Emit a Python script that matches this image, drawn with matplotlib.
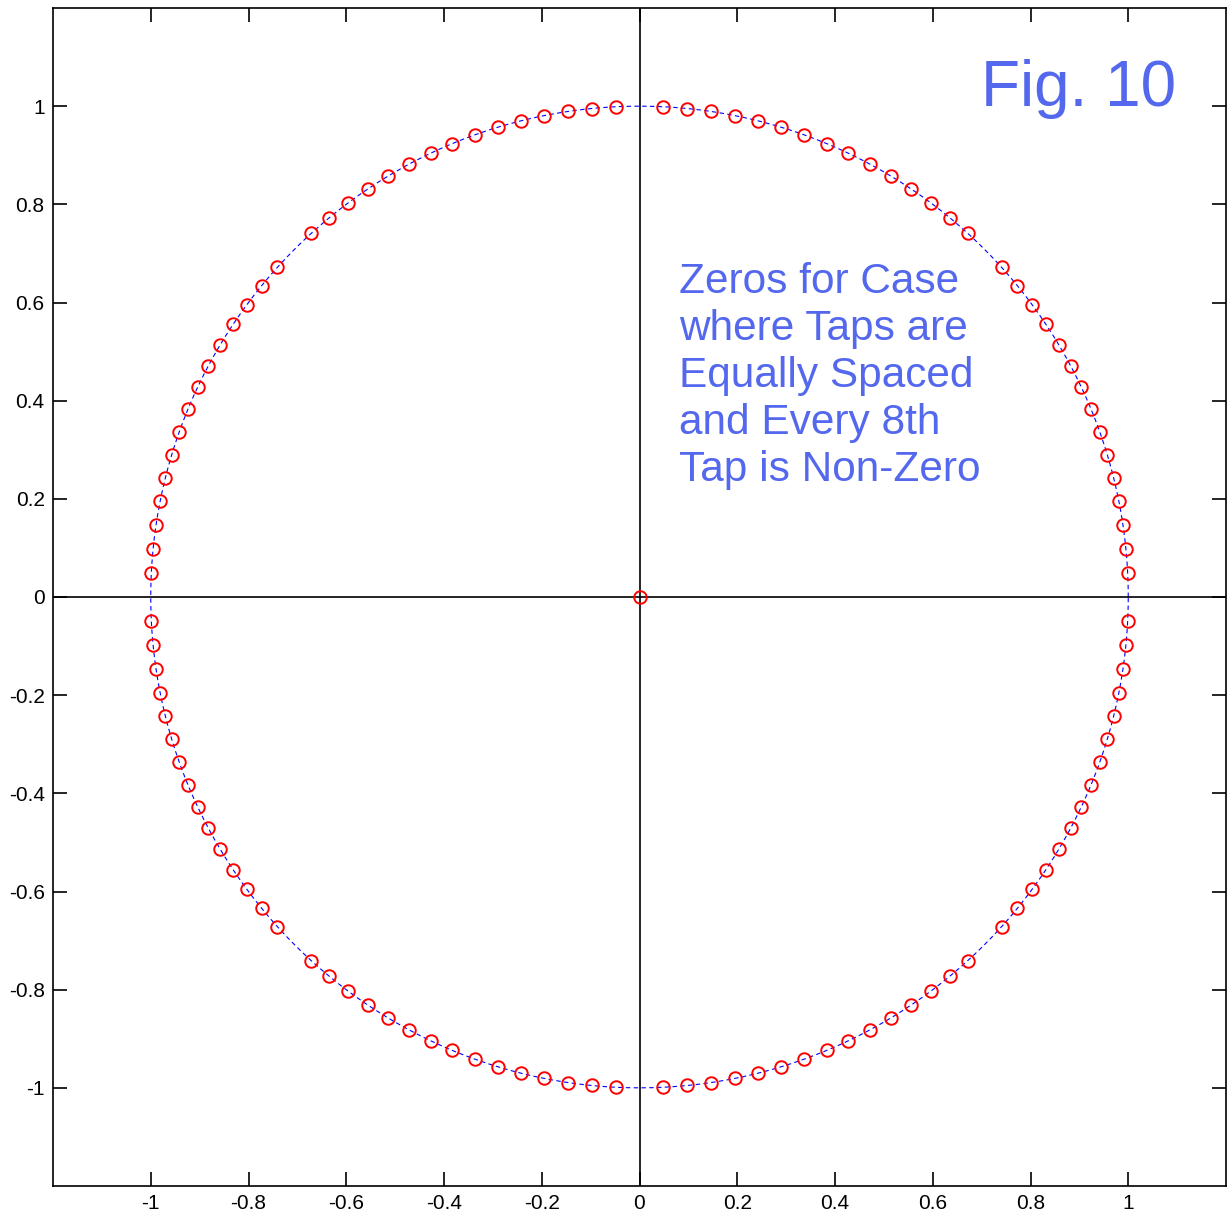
#!/usr/bin/env python3

import matplotlib as mpl
import matplotlib.pyplot as plt
import numpy as np

# filter taps: 128 taps, every 8th one is non-zero
taps = [1, 0, 0, 0, 0, 0, 0, 0] * 16
ticks = [-1, -0.8, -0.6, -0.4, -0.2, 0, 0.2, 0.4, 0.6, 0.8, 1]
tickLabels = ["-1", "-0.8", "-0.6", "-0.4", "-0.2", "0", "0.2", "0.4", "0.6", "0.8", "1"]
title = "Fig. 10"
note = "Zeros for Case\nwhere Taps are\nEqually Spaced\nand Every 8th\nTap is Non-Zero"

textColor = "#5468ee"

mpl.rcParams["font.family"] = ["Liberation Sans", "DejaVu Sans"]

zeros = np.roots(taps)
# repeated zeros at the origin drawn once
zeros = np.unique(np.round(zeros, 8))

fig = plt.figure(figsize=(12.29, 12.20), dpi=100)
ax = fig.add_axes([53 / 1229, 34 / 1220, 1173 / 1229, 1178 / 1220])

# unit circle, dashed
theta = np.linspace(0, 2 * np.pi, 721)
ax.plot(np.cos(theta), np.sin(theta), color="#0000ff", linestyle=(0, (4, 3)), linewidth=0.8)

ax.axhline(0, color="k", linewidth=1.2)
ax.axvline(0, color="k", linewidth=1.2)

ax.plot(zeros.real, zeros.imag, linestyle="none", marker="o", markersize=9,
	markerfacecolor="none", markeredgecolor="#ff0000", markeredgewidth=1.4)

ax.set_xlim(-1.2, 1.2)
ax.set_ylim(-1.2, 1.2)
ax.set_xticks(ticks)
ax.set_xticklabels(tickLabels)
ax.set_yticks(ticks)
ax.set_yticklabels(tickLabels)
ax.tick_params(direction="in", length=10, width=1.2, top=True, right=True, labelsize=15, pad=6)
for spine in ax.spines.values():
	spine.set_linewidth(1.2)

ax.text(1.098, 1.0, title, color=textColor, fontsize=46, ha="right", va="baseline")
ax.text(0.08, 0.683, note, color=textColor, fontsize=30.5, ha="left", va="top", linespacing=1.23)

fig.savefig("out.png", dpi=100)
